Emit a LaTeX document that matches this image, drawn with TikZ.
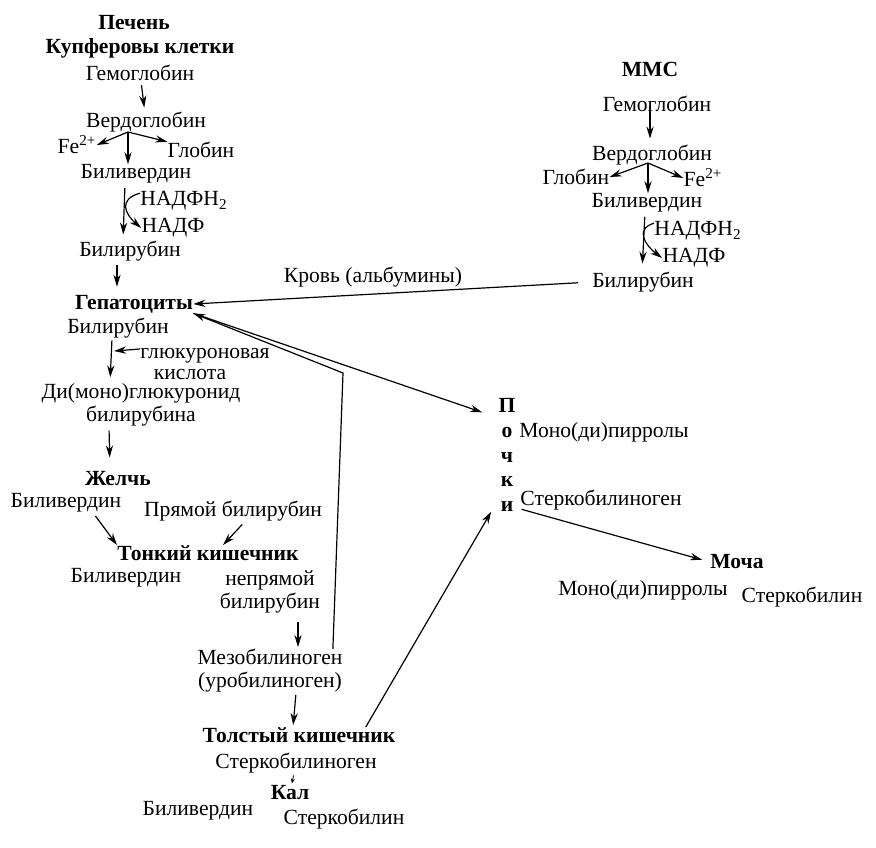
\documentclass[tikz,border=0pt]{standalone}
\usepackage{fontspec}
\setmainfont{Liberation Serif}
\usetikzlibrary{arrows.meta}
\tikzstyle{txt} = [inner sep=0pt, align=center, font=\fontsize{10.8}{11.5}\selectfont]
\tikzstyle{organ} = [inner sep=0pt, align=center, font=\fontsize{10.8}{11.5}\selectfont\bfseries]
\tikzstyle{arr} = [-{Stealth[length=6pt,width=3.6pt]}, line width=0.6pt]
\tikzstyle{tinyarr} = [-{Stealth[length=2.5pt,width=2pt]}, line width=0.4pt]

\begin{document}
\begin{tikzpicture}[x=0.5pt, y=-0.5pt]
\useasboundingbox (0,0) rectangle (876,847);
% liver, Kupffer cells
\node[organ] (liver) at (134,23) {Печень};
\node[organ] (kupf) at (140,48) {Купферовы клетки};
\node[txt] (gem1) at (140,73) {Гемоглобин};
\node[txt] (verd1) at (146,122) {Вердоглобин};
\node[txt] (fe1) at (77,145) {Fe\textsuperscript{2+}};
\node[txt] (glob1) at (201,150) {Глобин};
\node[txt] (bv1) at (136,174) {Биливердин};
\node[txt] (nadph1) at (184,201) {НАДФН\textsubscript{2}};
\node[txt] (nadp1) at (173,228) {НАДФ};
\node[txt] (bil1) at (130,251) {Билирубин};
\coordinate (br1) at (128,132);
\draw[arr, shorten <=2pt, shorten >=2pt] (gem1) -- (verd1);
\draw[arr] (br1) -- (fe1.east);
\draw[arr] (br1) -- (br1 |- bv1.north);
\draw[arr] (br1) -- (glob1.north west);
\draw[arr, shorten <=2pt, shorten >=3pt] ([xshift=-5.5pt]bv1.south) -- ([xshift=-3.5pt]bil1.north);
\draw[arr] ([yshift=-1pt]nadph1.north west) .. controls +(-22,6) and +(-16,-14) .. (nadp1.west);

% MMS
\node[organ] (mms) at (650,69) {ММС};
\node[txt] (gem2) at (657,104) {Гемоглобин};
\node[txt] (verd2) at (652,155) {Вердоглобин};
\node[txt] (glob2) at (576,177) {Глобин};
\node[txt] (fe2) at (703,178) {Fe\textsuperscript{2+}};
\node[txt] (bv2) at (647,203) {Биливердин};
\node[txt] (nadph2) at (698,231) {НАДФН\textsubscript{2}};
\node[txt] (nadp2) at (694,258) {НАДФ};
\node[txt] (bil2) at (643,282) {Билирубин};
\coordinate (br2) at (648,163);
\draw[arr, shorten <=-3pt, shorten >=3pt] ([xshift=-3.5pt]gem2.south) -- ([xshift=-1pt]verd2.north);
\draw[arr] (br2) -- (glob2.east);
\draw[arr] (br2) -- (br2 |- bv2.north);
\draw[arr] (br2) -- (fe2.west);
\draw[arr, shorten <=2pt, shorten >=4pt] ([xshift=-1pt]bv2.south) -- ([xshift=-0.5pt]bil2.north);
\draw[arr] ([yshift=-1pt]nadph2.north west) .. controls +(-20,6) and +(-16,-12) .. (nadp2.west);

% hepatocytes
\node[organ] (hep) at (134,304) {Гепатоциты};
\node[txt] (blood) at (373,277) {Кровь (альбумины)};
\draw[arr, shorten <=2pt, shorten >=4pt] ([xshift=-6.5pt]bil1.south) -- ([xshift=-8.5pt]hep.north);
\draw[arr, shorten <=7pt] (bil2.west) -- (hep.east);
\node[txt] (hbil) at (118,328) {Билирубин};
\node[txt] (gluc) at (205,356) {глюкуроновая};
\node[txt] (kisl) at (190,375) {кислота};
\node[txt] (digl) at (141,405) {Ди(моно)глюкуронид\\билирубина};
\coordinate (gj) at (114,351);
\draw[arr, shorten <=1pt, shorten >=3pt] ([xshift=-3pt]hbil.south) -- ([xshift=-15.5pt]digl.north);
\draw[arr, shorten >=0pt] ([yshift=3.5pt]gluc.west) -- (gj);

% bile, small intestine
\node[organ] (bile) at (118,479) {Желчь};
\node[txt] (bv3) at (66,503) {Биливердин};
\node[txt] (prbil) at (233,511) {Прямой билирубин};
\node[organ] (tonk) at (208,553) {Тонкий кишечник};
\node[txt] (bv4) at (126,578) {Биливердин};
\node[txt] (nepr) at (270,592) {непрямой\\билирубин};
\draw[arr, shorten <=2pt, shorten >=7pt] ([xshift=-16pt]digl.south) -- ([xshift=-4pt]bile.north);
\draw[arr, shorten <=2pt] ([xshift=13.5pt]bv3.south) -- (tonk.north west);
\draw[arr, shorten <=2pt] ([xshift=6pt]prbil.south) -- ([xshift=7.5pt]tonk.north);

% large intestine
\node[txt] (meso) at (270,671) {Мезобилиноген\\(уробилиноген)};
\node[organ] (tolst) at (299,735) {Толстый кишечник};
\node[txt] (sterk1) at (296,763) {Стеркобилиноген};
\node[organ] (kal) at (290,793) {Кал};
\node[txt] (bv5) at (198,811) {Биливердин};
\node[txt] (sterk2) at (344,819) {Стеркобилин};
\coordinate (turn) at (343,373);
\draw[arr, shorten <=4pt, shorten >=1pt] ([xshift=14pt]nepr.south) -- ([xshift=14pt]meso.north);
\draw[arr, shorten <=1pt, shorten >=1pt] ([xshift=13pt]meso.south) -- ([xshift=-3pt]tolst.north);
\draw[arr] ([xshift=-5pt]meso.north east) -- (turn) -- (hep.south east);
\draw[tinyarr, shorten <=1pt, shorten >=1pt] (sterk1) -- (kal);

% kidneys, urine
\node[organ, font=\fontsize{10.8}{12.3}\selectfont\bfseries] (kidney) at (507,455) {П\\о\\ч\\к\\и};
\node[txt] (pyr1) at (604,432) {Моно(ди)пирролы};
\node[txt] (sterk3) at (601,500) {Стеркобилиноген};
\node[organ] (urine) at (737,562) {Моча};
\node[txt] (pyr2) at (643,590) {Моно(ди)пирролы};
\node[txt] (sterk4) at (802,597) {Стеркобилин};
\draw[arr] (hep.south east) -- ([xshift=-8pt,yshift=-7pt]kidney.north west);
\draw[arr] ([xshift=-15pt]tolst.north east) -- ([xshift=-3.5pt]kidney.south west);
\draw[arr, shorten <=3pt, shorten >=4pt] ([yshift=2pt]kidney.south east) -- (urine.west);
\end{tikzpicture}
\end{document}
